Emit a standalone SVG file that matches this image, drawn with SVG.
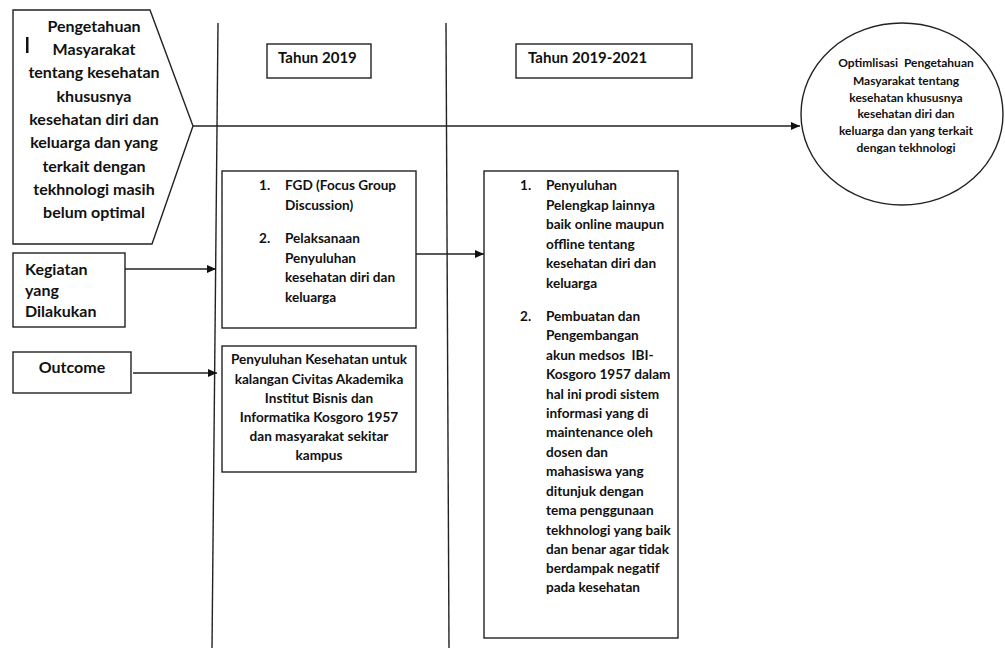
<svg xmlns="http://www.w3.org/2000/svg" width="1005" height="648" viewBox="0 0 1005 648">
<style>
text{font-family:Lato,"Liberation Sans",sans-serif;font-weight:bold;fill:#111}
.box{fill:#fff;stroke:#222;stroke-width:1.4}
.ln{fill:none;stroke:#222;stroke-width:1.4}
.c{text-anchor:middle}
.f16{font-size:16px}
.f15{font-size:15px}
.f14{font-size:14px}
.f135{font-size:13.6px}
.f12{font-size:12px}
</style>
<defs>
<marker id="ah" markerUnits="userSpaceOnUse" markerWidth="10" markerHeight="9" refX="9" refY="4" orient="auto">
<path d="M0,0 L9,4 L0,8 z" fill="#111"/>
</marker>
</defs>
<rect width="1005" height="648" fill="#fff"/>
<g id="connectors">
<line class="ln" x1="218" y1="23" x2="212" y2="648"/>
<line class="ln" x1="446" y1="23" x2="449" y2="648"/>
<line class="ln" x1="193" y1="126" x2="800" y2="126" marker-end="url(#ah)"/>
<line class="ln" x1="125" y1="269" x2="216" y2="269" marker-end="url(#ah)"/>
<line class="ln" x1="133" y1="373" x2="217" y2="373" marker-end="url(#ah)"/>
<line class="ln" x1="416" y1="254" x2="484" y2="254" marker-end="url(#ah)"/>
</g>
<g id="problem">
<polygon class="box" points="13,10 150,10 193,126 152,244 13,244"/>
<rect x="26" y="37" width="2.5" height="16" fill="#111"/>
<text class="f16 c" x="94"><tspan x="94" y="32">Pengetahuan</tspan><tspan x="94" y="55">Masyarakat</tspan><tspan x="94" y="78">tentang kesehatan</tspan><tspan x="94" y="102">khususnya</tspan><tspan x="94" y="125">kesehatan diri dan</tspan><tspan x="94" y="148">keluarga dan yang</tspan><tspan x="94" y="172">terkait dengan</tspan><tspan x="94" y="195">tekhnologi masih</tspan><tspan x="94" y="218">belum optimal</tspan></text>
</g>
<g id="tahun2019">
<rect class="box" x="267" y="44" width="104" height="34"/>
<text class="f15" x="278" y="63">Tahun 2019</text>
</g>
<g id="tahun2019-2021">
<rect class="box" x="516" y="44" width="176" height="34"/>
<text class="f15" x="528" y="63">Tahun 2019-2021</text>
</g>
<g id="kegiatan">
<rect class="box" x="13" y="253" width="112" height="74"/>
<text class="f16"><tspan x="25" y="275">Kegiatan</tspan><tspan x="25" y="296">yang</tspan><tspan x="25" y="317">Dilakukan</tspan></text>
</g>
<g id="outcome">
<rect class="box" x="13" y="352" width="118" height="41"/>
<text class="f16 c" x="72" y="373">Outcome</text>
</g>
<g id="kegiatan2019">
<rect class="box" x="222" y="171" width="194" height="157"/>
<text class="f135"><tspan x="259" y="190">1.</tspan><tspan x="285" y="190">FGD (Focus Group</tspan><tspan x="285" y="210">Discussion)</tspan><tspan x="259" y="243">2.</tspan><tspan x="285" y="243">Pelaksanaan</tspan><tspan x="285" y="263">Penyuluhan</tspan><tspan x="285" y="282">kesehatan diri dan</tspan><tspan x="285" y="302">keluarga</tspan></text>
</g>
<g id="outcome2019">
<rect class="box" x="222" y="346" width="194" height="126"/>
<text class="f135 c"><tspan x="319" y="364">Penyuluhan Kesehatan untuk</tspan><tspan x="319" y="384">kalangan Civitas Akademika</tspan><tspan x="319" y="403">Institut Bisnis dan</tspan><tspan x="319" y="422">Informatika Kosgoro 1957</tspan><tspan x="319" y="441">dan masyarakat sekitar</tspan><tspan x="319" y="460">kampus</tspan></text>
</g>
<g id="kegiatan2019-2021">
<rect class="box" x="484" y="171" width="194" height="467"/>
<text class="f135"><tspan x="520" y="190">1.</tspan><tspan x="546" y="190">Penyuluhan</tspan><tspan x="546" y="210">Pelengkap lainnya</tspan><tspan x="546" y="229">baik online maupun</tspan><tspan x="546" y="249">offline tentang</tspan><tspan x="546" y="268">kesehatan diri dan</tspan><tspan x="546" y="288">keluarga</tspan><tspan x="520" y="321">2.</tspan><tspan x="546" y="321">Pembuatan dan</tspan><tspan x="546" y="340">Pengembangan</tspan><tspan x="546" y="360">akun medsos &#160;IBI-</tspan><tspan x="546" y="379">Kosgoro 1957 dalam</tspan><tspan x="546" y="399">hal ini prodi sistem</tspan><tspan x="546" y="418">informasi yang di</tspan><tspan x="546" y="437">maintenance oleh</tspan><tspan x="546" y="457">dosen dan</tspan><tspan x="546" y="476">mahasiswa yang</tspan><tspan x="546" y="496">ditunjuk dengan</tspan><tspan x="546" y="515">tema penggunaan</tspan><tspan x="546" y="535">tekhnologi yang baik</tspan><tspan x="546" y="554">dan benar agar tidak</tspan><tspan x="546" y="573">berdampak negatif</tspan><tspan x="546" y="592">pada kesehatan</tspan></text>
</g>
<g id="goal">
<ellipse class="box" cx="902" cy="114" rx="101" ry="91"/>
<text class="f12 c"><tspan x="906" y="67">Optimlisasi &#160;Pengetahuan</tspan><tspan x="906" y="85">Masyarakat tentang</tspan><tspan x="906" y="102">kesehatan khususnya</tspan><tspan x="906" y="118">kesehatan diri dan</tspan><tspan x="906" y="135">keluarga dan yang terkait</tspan><tspan x="906" y="152">dengan tekhnologi</tspan></text>
</g>
</svg>
